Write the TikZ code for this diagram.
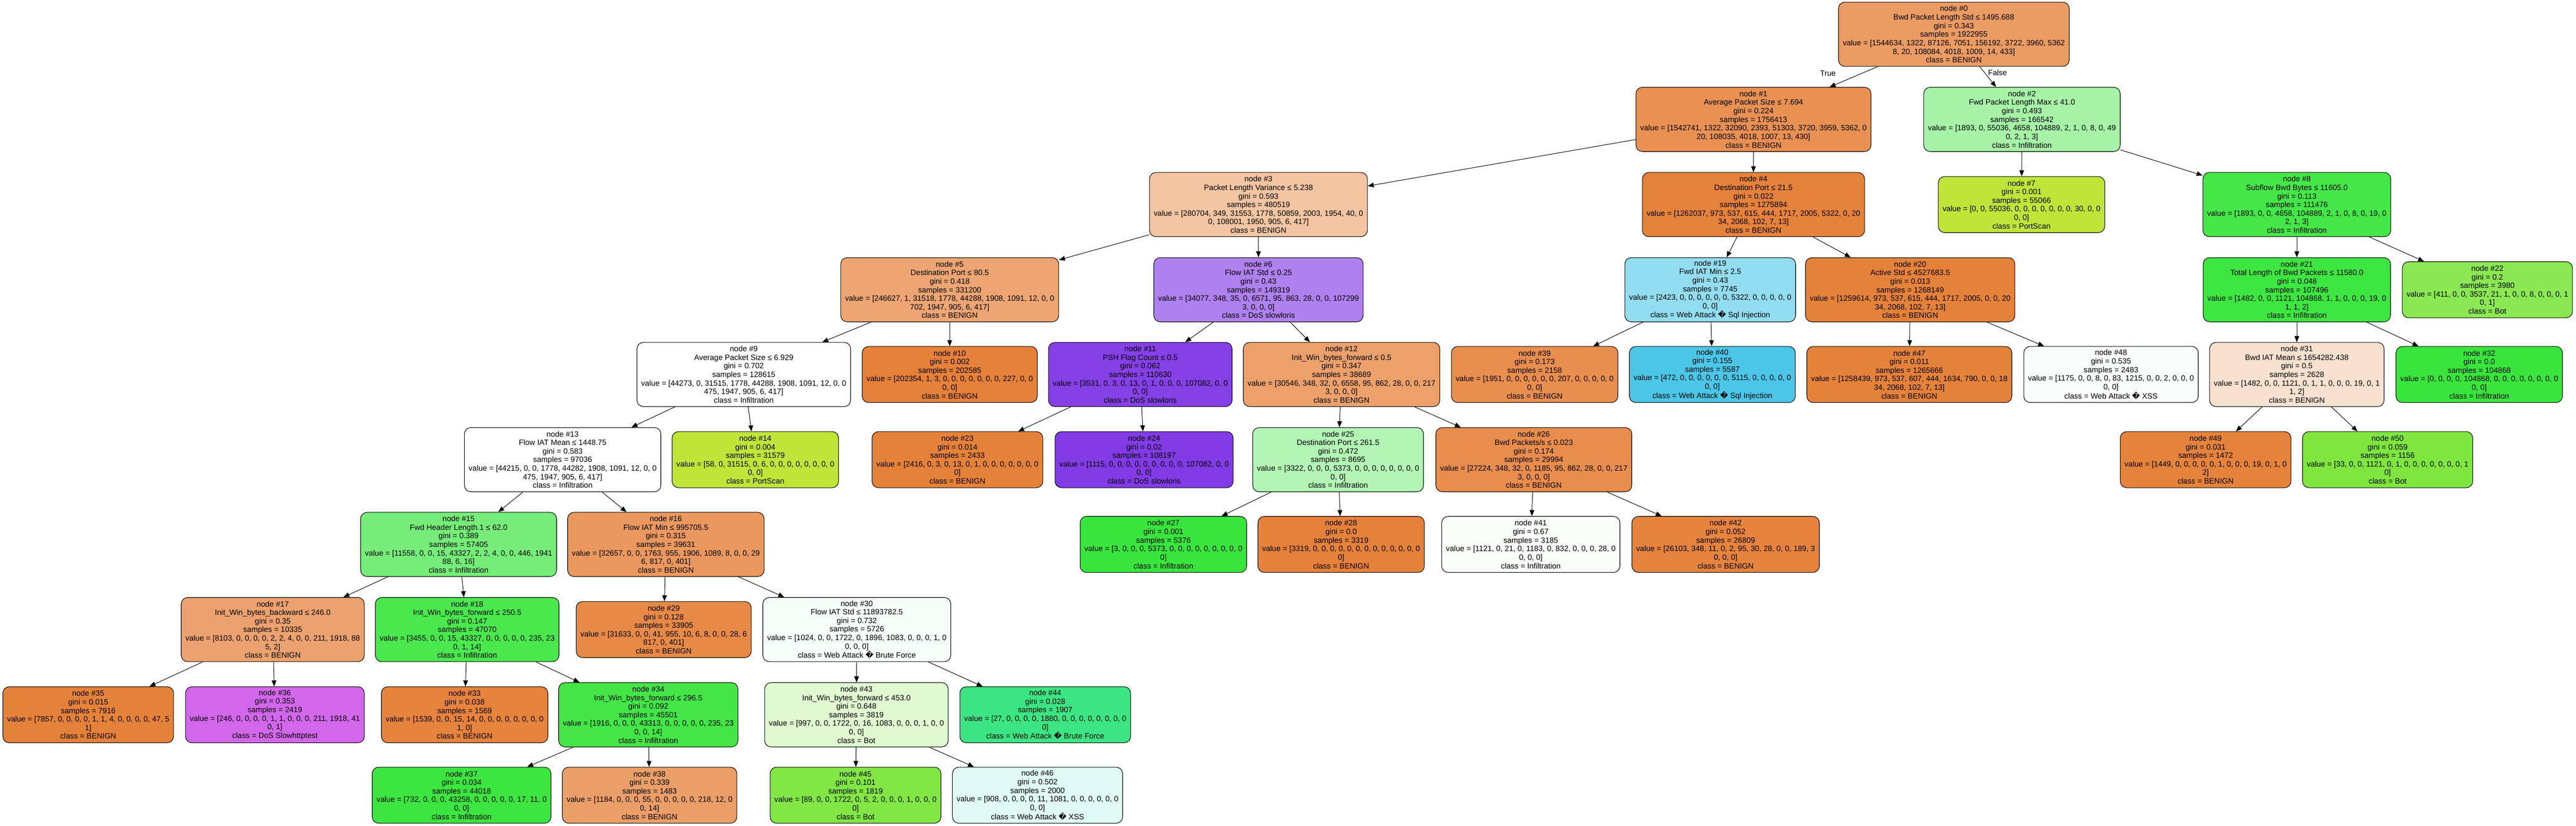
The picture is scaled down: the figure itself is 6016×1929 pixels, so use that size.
\documentclass[tikz,border=0pt]{standalone}
\usepackage{fontspec}
\setmainfont{Liberation Sans}
\newfontfamily\djv{DejaVu Sans}
\usetikzlibrary{arrows.meta}
\newcommand{\qmk}{{\djv\char"FFFD}}
\definecolor{c0}{RGB}{235,156,99}
\definecolor{c1}{RGB}{232,145,83}
\definecolor{c2}{RGB}{166,243,168}
\definecolor{c3}{RGB}{243,197,163}
\definecolor{c4}{RGB}{229,130,59}
\definecolor{c5}{RGB}{237,166,115}
\definecolor{c6}{RGB}{175,129,238}
\definecolor{c7}{RGB}{192,229,57}
\definecolor{c8}{RGB}{69,231,72}
\definecolor{c9}{RGB}{255,255,255}
\definecolor{c10}{RGB}{229,129,57}
\definecolor{c11}{RGB}{133,64,230}
\definecolor{c12}{RGB}{236,161,107}
\definecolor{c13}{RGB}{255,255,255}
\definecolor{c14}{RGB}{192,229,57}
\definecolor{c15}{RGB}{118,237,120}
\definecolor{c16}{RGB}{234,152,94}
\definecolor{c17}{RGB}{236,162,110}
\definecolor{c18}{RGB}{74,231,77}
\definecolor{c19}{RGB}{147,221,241}
\definecolor{c20}{RGB}{229,130,58}
\definecolor{c21}{RGB}{62,230,65}
\definecolor{c22}{RGB}{139,232,82}
\definecolor{c23}{RGB}{229,130,58}
\definecolor{c24}{RGB}{130,59,229}
\definecolor{c25}{RGB}{179,245,181}
\definecolor{c26}{RGB}{232,141,76}
\definecolor{c27}{RGB}{57,229,60}
\definecolor{c28}{RGB}{229,129,57}
\definecolor{c29}{RGB}{231,138,71}
\definecolor{c30}{RGB}{246,254,250}
\definecolor{c31}{RGB}{249,225,208}
\definecolor{c32}{RGB}{57,229,60}
\definecolor{c33}{RGB}{230,131,61}
\definecolor{c34}{RGB}{67,230,70}
\definecolor{c35}{RGB}{229,130,58}
\definecolor{c36}{RGB}{210,103,235}
\definecolor{c37}{RGB}{60,229,63}
\definecolor{c38}{RGB}{235,159,104}
\definecolor{c39}{RGB}{232,142,78}
\definecolor{c40}{RGB}{75,198,231}
\definecolor{c41}{RGB}{249,254,249}
\definecolor{c42}{RGB}{230,132,62}
\definecolor{c43}{RGB}{224,249,209}
\definecolor{c44}{RGB}{60,229,131}
\definecolor{c45}{RGB}{130,230,68}
\definecolor{c46}{RGB}{224,251,246}
\definecolor{c47}{RGB}{229,130,58}
\definecolor{c48}{RGB}{249,254,253}
\definecolor{c49}{RGB}{229,131,60}
\definecolor{c50}{RGB}{127,230,63}
\begin{document}
\begin{tikzpicture}[x=1pt,y=-1pt,
  tn/.style={draw=black, line width=1.3pt, rounded corners=15pt, align=center,
    inner xsep=10pt, inner ysep=4pt, font=\fontsize{18}{20}\selectfont},
  iv/.style={tn, minimum height=150pt},
  lf/.style={tn, minimum height=131pt},
  arr/.style={-{Triangle[length=14pt,width=11pt]}, line width=1.2pt},
  lbl/.style={font=\fontsize{18}{20}\selectfont, inner sep=0pt}]
\useasboundingbox (0,0) rectangle (6016,1929);
% level 0
\node[iv, fill=c0] (n0) at (4563,80) {node \#0\\Bwd Packet Length Std ≤ 1495.688\\gini = 0.343\\samples = 1922955\\value = [1544634, 1322, 87126, 7051, 156192, 3722, 3960, 5362\\8, 20, 108084, 4018, 1009, 14, 433]\\class = BENIGN};
% level 1
\node[iv, fill=c1] (n1) at (4095,279) {node \#1\\Average Packet Size ≤ 7.694\\gini = 0.224\\samples = 1756413\\value = [1542741, 1322, 32090, 2393, 51303, 3720, 3959, 5362, 0\\20, 108035, 4018, 1007, 13, 430]\\class = BENIGN};
\node[iv, fill=c2] (n2) at (4722,279) {node \#2\\Fwd Packet Length Max ≤ 41.0\\gini = 0.493\\samples = 166542\\value = [1893, 0, 55036, 4658, 104889, 2, 1, 0, 8, 0, 49\\0, 2, 1, 3]\\class = Infiltration};
% level 2
\node[iv, fill=c3] (n3) at (2939,478) {node \#3\\Packet Length Variance ≤ 5.238\\gini = 0.593\\samples = 480519\\value = [280704, 349, 31553, 1778, 50859, 2003, 1954, 40, 0\\0, 108001, 1950, 905, 6, 417]\\class = BENIGN};
\node[iv, fill=c4] (n4) at (4095,478) {node \#4\\Destination Port ≤ 21.5\\gini = 0.022\\samples = 1275894\\value = [1262037, 973, 537, 615, 444, 1717, 2005, 5322, 0, 20\\34, 2068, 102, 7, 13]\\class = BENIGN};
\node[lf, fill=c7] (n7) at (4721,478) {node \#7\\gini = 0.001\\samples = 55066\\value = [0, 0, 55036, 0, 0, 0, 0, 0, 0, 0, 30, 0, 0\\0, 0]\\class = PortScan};
\node[iv, fill=c8] (n8) at (5364,478) {node \#8\\Subflow Bwd Bytes ≤ 11605.0\\gini = 0.113\\samples = 111476\\value = [1893, 0, 0, 4658, 104889, 2, 1, 0, 8, 0, 19, 0\\2, 1, 3]\\class = Infiltration};
% level 3
\node[iv, fill=c5] (n5) at (2218,677) {node \#5\\Destination Port ≤ 80.5\\gini = 0.418\\samples = 331200\\value = [246627, 1, 31518, 1778, 44288, 1908, 1091, 12, 0, 0\\702, 1947, 905, 6, 417]\\class = BENIGN};
\node[iv, fill=c6] (n6) at (2939,677) {node \#6\\Flow IAT Std ≤ 0.25\\gini = 0.43\\samples = 149319\\value = [34077, 348, 35, 0, 6571, 95, 863, 28, 0, 0, 107299\\3, 0, 0, 0]\\class = DoS slowloris};
\node[iv, fill=c19] (n19) at (3994,677) {node \#19\\Fwd IAT Min ≤ 2.5\\gini = 0.43\\samples = 7745\\value = [2423, 0, 0, 0, 0, 0, 0, 5322, 0, 0, 0, 0, 0\\0, 0]\\class = Web Attack \qmk{} Sql Injection};
\node[iv, fill=c20] (n20) at (4461,677) {node \#20\\Active Std ≤ 4527683.5\\gini = 0.013\\samples = 1268149\\value = [1259614, 973, 537, 615, 444, 1717, 2005, 0, 0, 20\\34, 2068, 102, 7, 13]\\class = BENIGN};
\node[iv, fill=c21] (n21) at (5364,677) {node \#21\\Total Length of Bwd Packets ≤ 11580.0\\gini = 0.048\\samples = 107496\\value = [1482, 0, 0, 1121, 104868, 1, 1, 0, 0, 0, 19, 0\\1, 1, 2]\\class = Infiltration};
\node[lf, fill=c22] (n22) at (5809,677) {node \#22\\gini = 0.2\\samples = 3980\\value = [411, 0, 0, 3537, 21, 1, 0, 0, 8, 0, 0, 0, 1\\0, 1]\\class = Bot};
% level 4
\node[iv, fill=c9] (n9) at (1737,875) {node \#9\\Average Packet Size ≤ 6.929\\gini = 0.702\\samples = 128615\\value = [44273, 0, 31515, 1778, 44288, 1908, 1091, 12, 0, 0\\475, 1947, 905, 6, 417]\\class = Infiltration};
\node[lf, fill=c10] (n10) at (2218,875) {node \#10\\gini = 0.002\\samples = 202585\\value = [202354, 1, 3, 0, 0, 0, 0, 0, 0, 0, 227, 0, 0\\0, 0]\\class = BENIGN};
\node[iv, fill=c11] (n11) at (2663,875) {node \#11\\PSH Flag Count ≤ 0.5\\gini = 0.062\\samples = 110630\\value = [3531, 0, 3, 0, 13, 0, 1, 0, 0, 0, 107082, 0, 0\\0, 0]\\class = DoS slowloris};
\node[iv, fill=c12] (n12) at (3133,875) {node \#12\\Init\_Win\_bytes\_forward ≤ 0.5\\gini = 0.347\\samples = 38689\\value = [30546, 348, 32, 0, 6558, 95, 862, 28, 0, 0, 217\\3, 0, 0, 0]\\class = BENIGN};
\node[lf, fill=c39] (n39) at (3584,875) {node \#39\\gini = 0.173\\samples = 2158\\value = [1951, 0, 0, 0, 0, 0, 0, 207, 0, 0, 0, 0, 0\\0, 0]\\class = BENIGN};
\node[lf, fill=c40] (n40) at (3999,875) {node \#40\\gini = 0.155\\samples = 5587\\value = [472, 0, 0, 0, 0, 0, 0, 5115, 0, 0, 0, 0, 0\\0, 0]\\class = Web Attack \qmk{} Sql Injection};
\node[lf, fill=c47] (n47) at (4459,875) {node \#47\\gini = 0.011\\samples = 1265666\\value = [1258439, 973, 537, 607, 444, 1634, 790, 0, 0, 18\\34, 2068, 102, 7, 13]\\class = BENIGN};
\node[lf, fill=c48] (n48) at (4930,875) {node \#48\\gini = 0.535\\samples = 2483\\value = [1175, 0, 0, 8, 0, 83, 1215, 0, 0, 2, 0, 0, 0\\0, 0]\\class = Web Attack \qmk{} XSS};
\node[iv, fill=c31] (n31) at (5364,875) {node \#31\\Bwd IAT Mean ≤ 1654282.438\\gini = 0.5\\samples = 2628\\value = [1482, 0, 0, 1121, 0, 1, 1, 0, 0, 0, 19, 0, 1\\1, 2]\\class = BENIGN};
\node[lf, fill=c32] (n32) at (5790,875) {node \#32\\gini = 0.0\\samples = 104868\\value = [0, 0, 0, 0, 104868, 0, 0, 0, 0, 0, 0, 0, 0\\0, 0]\\class = Infiltration};
% level 5
\node[iv, fill=c13] (n13) at (1314,1074) {node \#13\\Flow IAT Mean ≤ 1448.75\\gini = 0.583\\samples = 97036\\value = [44215, 0, 0, 1778, 44282, 1908, 1091, 12, 0, 0\\475, 1947, 905, 6, 417]\\class = Infiltration};
\node[lf, fill=c14] (n14) at (1764,1074) {node \#14\\gini = 0.004\\samples = 31579\\value = [58, 0, 31515, 0, 6, 0, 0, 0, 0, 0, 0, 0, 0\\0, 0]\\class = PortScan};
\node[lf, fill=c23] (n23) at (2236,1074) {node \#23\\gini = 0.014\\samples = 2433\\value = [2416, 0, 3, 0, 13, 0, 1, 0, 0, 0, 0, 0, 0, 0\\0]\\class = BENIGN};
\node[lf, fill=c24] (n24) at (2672,1074) {node \#24\\gini = 0.02\\samples = 108197\\value = [1115, 0, 0, 0, 0, 0, 0, 0, 0, 0, 107082, 0, 0\\0, 0]\\class = DoS slowloris};
\node[iv, fill=c25] (n25) at (3125,1074) {node \#25\\Destination Port ≤ 261.5\\gini = 0.472\\samples = 8695\\value = [3322, 0, 0, 0, 5373, 0, 0, 0, 0, 0, 0, 0, 0\\0, 0]\\class = Infiltration};
\node[iv, fill=c26] (n26) at (3582,1074) {node \#26\\Bwd Packets/s ≤ 0.023\\gini = 0.174\\samples = 29994\\value = [27224, 348, 32, 0, 1185, 95, 862, 28, 0, 0, 217\\3, 0, 0, 0]\\class = BENIGN};
\node[lf, fill=c49] (n49) at (5151,1074) {node \#49\\gini = 0.031\\samples = 1472\\value = [1449, 0, 0, 0, 0, 0, 1, 0, 0, 0, 19, 0, 1, 0\\2]\\class = BENIGN};
\node[lf, fill=c50] (n50) at (5576,1074) {node \#50\\gini = 0.059\\samples = 1156\\value = [33, 0, 0, 1121, 0, 1, 0, 0, 0, 0, 0, 0, 0, 1\\0]\\class = Bot};
% level 6
\node[iv, fill=c15] (n15) at (1071,1272) {node \#15\\Fwd Header Length.1 ≤ 62.0\\gini = 0.389\\samples = 57405\\value = [11558, 0, 0, 15, 43327, 2, 2, 4, 0, 0, 446, 1941\\88, 6, 16]\\class = Infiltration};
\node[iv, fill=c16] (n16) at (1555,1272) {node \#16\\Flow IAT Min ≤ 995705.5\\gini = 0.315\\samples = 39631\\value = [32657, 0, 0, 1763, 955, 1906, 1089, 8, 0, 0, 29\\6, 817, 0, 401]\\class = BENIGN};
\node[lf, fill=c27] (n27) at (2717,1272) {node \#27\\gini = 0.001\\samples = 5376\\value = [3, 0, 0, 0, 5373, 0, 0, 0, 0, 0, 0, 0, 0, 0\\0]\\class = Infiltration};
\node[lf, fill=c28] (n28) at (3132,1272) {node \#28\\gini = 0.0\\samples = 3319\\value = [3319, 0, 0, 0, 0, 0, 0, 0, 0, 0, 0, 0, 0, 0\\0]\\class = BENIGN};
\node[lf, fill=c41] (n41) at (3575,1272) {node \#41\\gini = 0.67\\samples = 3185\\value = [1121, 0, 21, 0, 1183, 0, 832, 0, 0, 0, 28, 0\\0, 0, 0]\\class = Infiltration};
\node[lf, fill=c42] (n42) at (4030,1272) {node \#42\\gini = 0.052\\samples = 26809\\value = [26103, 348, 11, 0, 2, 95, 30, 28, 0, 0, 189, 3\\0, 0, 0]\\class = BENIGN};
% level 7
\node[iv, fill=c17] (n17) at (637,1471) {node \#17\\Init\_Win\_bytes\_backward ≤ 246.0\\gini = 0.35\\samples = 10335\\value = [8103, 0, 0, 0, 0, 2, 2, 4, 0, 0, 211, 1918, 88\\5, 2]\\class = BENIGN};
\node[iv, fill=c18] (n18) at (1091,1471) {node \#18\\Init\_Win\_bytes\_forward ≤ 250.5\\gini = 0.147\\samples = 47070\\value = [3455, 0, 0, 15, 43327, 0, 0, 0, 0, 0, 235, 23\\0, 1, 14]\\class = Infiltration};
\node[lf, fill=c29] (n29) at (1550,1471) {node \#29\\gini = 0.128\\samples = 33905\\value = [31633, 0, 0, 41, 955, 10, 6, 8, 0, 0, 28, 6\\817, 0, 401]\\class = BENIGN};
\node[iv, fill=c30] (n30) at (2001,1471) {node \#30\\Flow IAT Std ≤ 11893782.5\\gini = 0.732\\samples = 5726\\value = [1024, 0, 0, 1722, 0, 1896, 1083, 0, 0, 0, 1, 0\\0, 0, 0]\\class = Web Attack \qmk{} Brute Force};
% level 8
\node[lf, fill=c35] (n35) at (206,1670) {node \#35\\gini = 0.015\\samples = 7916\\value = [7857, 0, 0, 0, 0, 1, 1, 4, 0, 0, 0, 0, 47, 5\\1]\\class = BENIGN};
\node[lf, fill=c36] (n36) at (642,1670) {node \#36\\gini = 0.353\\samples = 2419\\value = [246, 0, 0, 0, 0, 1, 1, 0, 0, 0, 211, 1918, 41\\0, 1]\\class = DoS Slowhttptest};
\node[lf, fill=c33] (n33) at (1085,1670) {node \#33\\gini = 0.038\\samples = 1569\\value = [1539, 0, 0, 15, 14, 0, 0, 0, 0, 0, 0, 0, 0\\1, 0]\\class = BENIGN};
\node[iv, fill=c34] (n34) at (1514,1670) {node \#34\\Init\_Win\_bytes\_forward ≤ 296.5\\gini = 0.092\\samples = 45501\\value = [1916, 0, 0, 0, 43313, 0, 0, 0, 0, 0, 235, 23\\0, 0, 14]\\class = Infiltration};
\node[iv, fill=c43] (n43) at (2000,1670) {node \#43\\Init\_Win\_bytes\_forward ≤ 453.0\\gini = 0.648\\samples = 3819\\value = [997, 0, 0, 1722, 0, 16, 1083, 0, 0, 0, 1, 0, 0\\0, 0]\\class = Bot};
\node[lf, fill=c44] (n44) at (2441,1670) {node \#44\\gini = 0.028\\samples = 1907\\value = [27, 0, 0, 0, 0, 1880, 0, 0, 0, 0, 0, 0, 0, 0\\0]\\class = Web Attack \qmk{} Brute Force};
% level 9
\node[lf, fill=c37] (n37) at (1078,1858) {node \#37\\gini = 0.034\\samples = 44018\\value = [732, 0, 0, 0, 43258, 0, 0, 0, 0, 0, 17, 11, 0\\0, 0]\\class = Infiltration};
\node[lf, fill=c38] (n38) at (1517,1858) {node \#38\\gini = 0.339\\samples = 1483\\value = [1184, 0, 0, 0, 55, 0, 0, 0, 0, 0, 218, 12, 0\\0, 14]\\class = BENIGN};
\node[lf, fill=c45] (n45) at (1998,1858) {node \#45\\gini = 0.101\\samples = 1819\\value = [89, 0, 0, 1722, 0, 5, 2, 0, 0, 0, 1, 0, 0, 0\\0]\\class = Bot};
\node[lf, fill=c46] (n46) at (2423,1858) {node \#46\\gini = 0.502\\samples = 2000\\value = [908, 0, 0, 0, 0, 11, 1081, 0, 0, 0, 0, 0, 0\\0, 0]\\class = Web Attack \qmk{} XSS};
% edge labels
\node[lbl] (ltrue) at (4269,171) {True};
\node[lbl] (lfalse) at (4665,170) {False};
% edges
\foreach \p/\c in {0/1,0/2,1/3,1/4,2/7,2/8,3/5,3/6,4/19,4/20,8/21,8/22,
  5/9,5/10,6/11,6/12,19/39,19/40,20/47,20/48,21/31,21/32,
  9/13,9/14,11/23,11/24,12/25,12/26,31/49,31/50,
  13/15,13/16,25/27,25/28,26/41,26/42,
  15/17,15/18,16/29,16/30,17/35,17/36,18/33,18/34,
  30/43,30/44,34/37,34/38,43/45,43/46}
  \draw[arr] (n\p) -- (n\c);
\end{tikzpicture}
\end{document}
